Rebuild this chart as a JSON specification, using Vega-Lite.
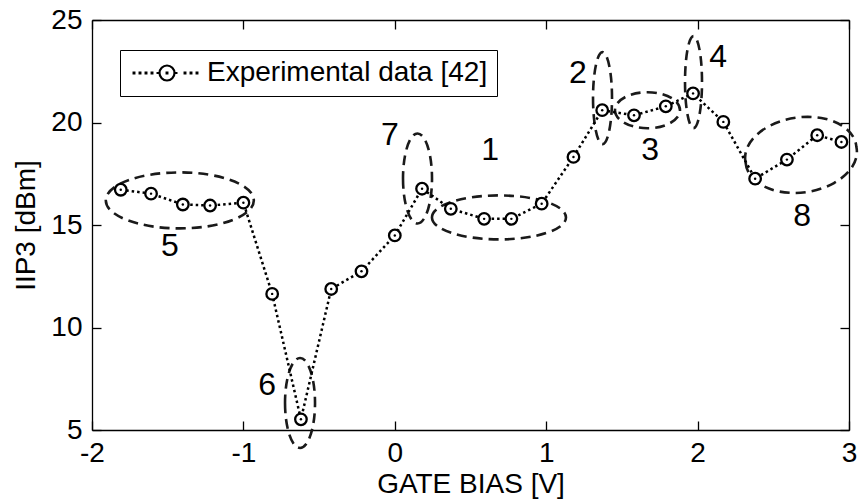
{
  "$schema": "https://vega.github.io/schema/vega-lite/v6.json",
  "width": 757,
  "height": 410,
  "autosize": "none",
  "padding": {"left": 92, "top": 20, "right": 12, "bottom": 72},
  "background": "white",
  "config": {
    "font": "Liberation Sans",
    "view": {"stroke": null},
    "axis": {
      "domainColor": "black",
      "domainWidth": 1.3,
      "tickColor": "black",
      "tickWidth": 1.3,
      "tickSize": -9,
      "labelColor": "black",
      "titleColor": "black",
      "labelFont": "Liberation Sans",
      "titleFont": "Liberation Sans",
      "labelFontSize": 28,
      "titleFontSize": 28,
      "titleFontWeight": "normal",
      "grid": false,
      "labelFlush": false
    }
  },
  "datasets": {
    "iip3": [
      {"x": -1.81, "y": 16.72}, {"x": -1.61, "y": 16.53}, {"x": -1.40, "y": 16.00},
      {"x": -1.22, "y": 15.95}, {"x": -1.00, "y": 16.09}, {"x": -0.81, "y": 11.64},
      {"x": -0.62, "y": 5.52}, {"x": -0.42, "y": 11.88}, {"x": -0.22, "y": 12.74},
      {"x": 0.00, "y": 14.49}, {"x": 0.18, "y": 16.77}, {"x": 0.37, "y": 15.79},
      {"x": 0.59, "y": 15.30}, {"x": 0.77, "y": 15.30}, {"x": 0.97, "y": 16.04},
      {"x": 1.18, "y": 18.32}, {"x": 1.37, "y": 20.60}, {"x": 1.58, "y": 20.35},
      {"x": 1.79, "y": 20.79}, {"x": 1.97, "y": 21.42}, {"x": 2.17, "y": 20.03},
      {"x": 2.38, "y": 17.26}, {"x": 2.59, "y": 18.19}, {"x": 2.79, "y": 19.38},
      {"x": 2.95, "y": 19.05}
    ],
    "ellipses": [
      {"id": "5", "x": -1.42, "y": 16.2},
      {"id": "6", "x": -0.626, "y": 6.32},
      {"id": "7", "x": 0.15, "y": 17.27},
      {"id": "1", "x": 0.688, "y": 15.37},
      {"id": "2", "x": 1.372, "y": 21.19},
      {"id": "3", "x": 1.669, "y": 20.6},
      {"id": "4", "x": 1.973, "y": 21.97},
      {"id": "8", "x": 2.683, "y": 18.42}
    ],
    "labels": [
      {"id": "5", "x": -1.485, "y": 14.0},
      {"id": "6", "x": -0.844, "y": 7.2},
      {"id": "7", "x": -0.032, "y": 19.38},
      {"id": "1", "x": 0.629, "y": 18.64},
      {"id": "2", "x": 1.21, "y": 22.4},
      {"id": "3", "x": 1.686, "y": 18.64},
      {"id": "4", "x": 2.135, "y": 23.19},
      {"id": "8", "x": 2.69, "y": 15.42}
    ]
  },
  "layer": [
    {
      "layer": [
        {
          "data": {"name": "ellipses"},
          "mark": {"type": "point", "filled": false, "size": 4, "stroke": "#1a1a1a", "strokeWidth": 2.6, "strokeDash": [10, 6], "opacity": 1},
          "encoding": {
            "x": {"field": "x", "type": "quantitative", "scale": {"domain": [-2, 3], "nice": false, "zero": false},
                  "axis": {"values": [-2, -1, 0, 1, 2, 3], "labelExpr": "'' + datum.value", "title": "GATE BIAS [V]", "orient": "bottom", "labelPadding": 18, "titlePadding": 3}},
            "y": {"field": "y", "type": "quantitative", "scale": {"domain": [5, 25], "nice": false, "zero": false},
                  "axis": {"values": [5, 10, 15, 20, 25], "labelExpr": "'' + datum.value", "title": "IIP3 [dBm]", "orient": "left", "labelPadding": 19, "titlePadding": 10}},
            "shape": {
              "field": "id", "type": "nominal", "legend": null,
              "scale": {
                "domain": ["5", "6", "7", "1", "2", "3", "4", "8"],
                "range": [
                  "M-74,0A74,28 0 1,0 74,0A74,28 0 1,0 -74,0Z",
                  "M-15,0A15,45 0 1,0 15,0A15,45 0 1,0 -15,0Z",
                  "M-14.5,0A14.5,45 0 1,0 14.5,0A14.5,45 0 1,0 -14.5,0Z",
                  "M-67,0A67,22 0 1,0 67,0A67,22 0 1,0 -67,0Z",
                  "M-9.5,0A9.5,46 0 1,0 9.5,0A9.5,46 0 1,0 -9.5,0Z",
                  "M-32.5,0A32.5,18 0 1,0 32.5,0A32.5,18 0 1,0 -32.5,0Z",
                  "M-8.5,0A8.5,46 0 1,0 8.5,0A8.5,46 0 1,0 -8.5,0Z",
                  "M-55.4,7.8A56,36 -8 1,0 55.4,-7.8A56,36 -8 1,0 -55.4,7.8Z"
                ]
              }
            }
          }
        },
        {
          "data": {"name": "iip3"},
          "mark": {"type": "line", "color": "black", "strokeWidth": 2.5, "strokeDash": [2.5, 3]},
          "encoding": {
            "x": {"field": "x", "type": "quantitative"},
            "y": {"field": "y", "type": "quantitative"}
          }
        },
        {
          "data": {"name": "iip3"},
          "mark": {"type": "point", "shape": "circle", "size": 133, "strokeWidth": 2.3, "filled": false, "fill": "white", "opacity": 1},
          "encoding": {
            "x": {"field": "x", "type": "quantitative"},
            "y": {"field": "y", "type": "quantitative"},
            "color": {
              "datum": "Experimental data [42]", "type": "nominal",
              "scale": {"range": ["black"]},
              "legend": {
                "title": null, "orient": "none", "legendX": 28, "legendY": 30,
                "symbolType": "M-1,0A1,1 0 1,0 1,0A1,1 0 1,0 -1,0ZM-4.45,-0.05h0.1v0.1h-0.1ZM-3.65,-0.05h0.1v0.1h-0.1ZM-2.85,-0.05h0.1v0.1h-0.1ZM-2.05,-0.05h0.1v0.1h-0.1ZM-1.4,0L-1,0M1,0L1.4,0M2.35,-0.05h0.1v0.1h-0.1ZM3.15,-0.05h0.1v0.1h-0.1ZM3.95,-0.05h0.1v0.1h-0.1ZM-0.05,-0.05h0.1v0.1h-0.1Z",
                "symbolSize": 225, "symbolStrokeWidth": 2.2, "symbolStrokeColor": "black", "symbolFillColor": "transparent",
                "symbolOffset": 24, "labelOffset": 26,
                "labelFont": "Liberation Sans", "labelFontSize": 28, "labelColor": "black", "labelLimit": 500,
                "padding": 9, "strokeColor": "black", "fillColor": "white"
              }
            }
          }
        },
        {
          "data": {"name": "iip3"},
          "mark": {"type": "point", "shape": "circle", "size": 6, "filled": true, "color": "black", "opacity": 1},
          "encoding": {
            "x": {"field": "x", "type": "quantitative"},
            "y": {"field": "y", "type": "quantitative"}
          }
        },
        {
          "data": {"name": "labels"},
          "mark": {"type": "text", "font": "Liberation Sans", "fontSize": 32, "color": "black", "align": "center", "baseline": "middle"},
          "encoding": {
            "x": {"field": "x", "type": "quantitative"},
            "y": {"field": "y", "type": "quantitative"},
            "text": {"field": "id"}
          }
        }
      ]
    },
    {
      "data": {"name": "iip3"},
      "mark": {"type": "point", "opacity": 0},
      "encoding": {
        "x": {"field": "x", "type": "quantitative", "scale": {"domain": [-2, 3], "nice": false, "zero": false},
              "axis": {"orient": "top", "values": [-2, -1, 0, 1, 2, 3], "labels": false, "title": null}},
        "y": {"field": "y", "type": "quantitative", "scale": {"domain": [5, 25], "nice": false, "zero": false},
              "axis": {"orient": "right", "values": [5, 10, 15, 20, 25], "labels": false, "title": null}}
      }
    }
  ],
  "resolve": {"scale": {"x": "independent", "y": "independent"}}
}
